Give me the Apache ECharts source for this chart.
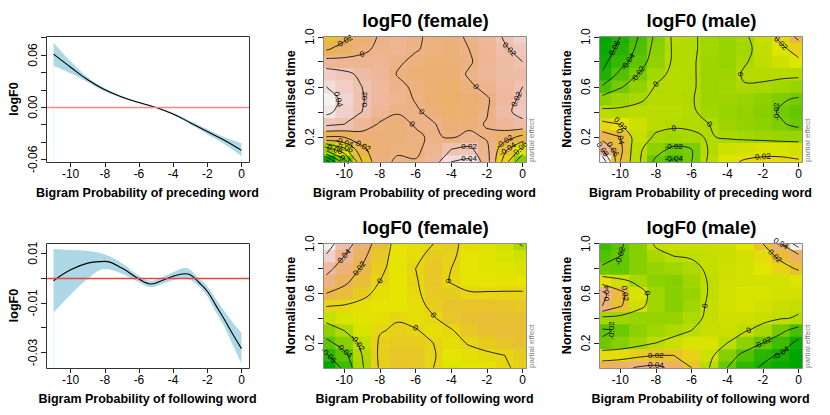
<!DOCTYPE html>
<html><head><meta charset="utf-8">
<script src="https://cdn.jsdelivr.net/npm/echarts@6/dist/echarts.min.js"></script>
<style>html,body{margin:0;padding:0;background:#fff}#c{width:830px;height:415px}</style>
</head><body><div id="c"></div>
<script>
// ================= DATA =================
// line panel 1: preceding word
const precX  = [-11,-10,-9,-8,-7,-6,-5,-4,-3,-2,-1,0];
const precFit = [0.061,0.046,0.0315,0.020,0.0118,0.0053,-0.0004,-0.008,-0.0178,-0.028,-0.038,-0.0497];
const precLo  = [0.0478,0.039,0.0288,0.0182,0.0106,0.0046,-0.0011,-0.0091,-0.0197,-0.0311,-0.0425,-0.0565];
const precHi  = [0.0744,0.0527,0.0345,0.022,0.0129,0.0061,0.0004,-0.0068,-0.0159,-0.0254,-0.0345,-0.0414];
// line panel 2: following word
const follX  = [-11,-10,-9,-8,-7,-6,-5.3,-5,-4,-3.3,-3,-2.5,-2,-1.5,-1,-0.5,0];
const follFit = [-0.0011,0.0033,0.006,0.0067,0.004,-0.0004,-0.0024,-0.002,0.0007,0.0017,0.0013,-0.0017,-0.0053,-0.011,-0.0167,-0.0227,-0.0284];
const follLo  = [-0.014,-0.0067,-0.0004,0.0036,0.0017,-0.0017,-0.0037,-0.0033,-0.0009,-0.0003,-0.0007,-0.0033,-0.0073,-0.0137,-0.0196,-0.0271,-0.0343];
const follHi  = [0.0117,0.0113,0.0109,0.0095,0.006,0.0009,-0.0011,-0.0007,0.0023,0.004,0.0033,0.0,-0.0033,-0.0084,-0.0133,-0.018,-0.022];

// surface grids: columns = gridX, rows = gridY (top row y=1.0 first)
const gridX = [-11,-10,-9,-8,-7,-6,-5,-4,-3,-2,-1,0];
const gridY = [1.0,0.9,0.8,0.7,0.6,0.5,0.4,0.3,0.2,0.1,0.0];
const femalePrecZ = [
 [-0.035,-0.025,-0.010, 0.002, 0.006, 0.002,-0.003,-0.004, 0.002, 0.010, 0.022, 0.032],
 [-0.022,-0.012,-0.004, 0.004, 0.006, 0.001,-0.003,-0.005, 0.000, 0.008, 0.018, 0.026],
 [ 0.008, 0.006, 0.006, 0.008, 0.002,-0.003,-0.006,-0.006,-0.002, 0.008, 0.015, 0.020],
 [ 0.030, 0.025, 0.016, 0.010,-0.001,-0.006,-0.008,-0.008, 0.002, 0.010, 0.015, 0.016],
 [ 0.040, 0.030, 0.020, 0.012, 0.004,-0.003,-0.008,-0.010,-0.003, 0.005, 0.013, 0.020],
 [ 0.050, 0.035, 0.021, 0.013, 0.006,-0.001,-0.008,-0.012,-0.008,-0.002, 0.012, 0.024],
 [ 0.045, 0.032, 0.020, 0.008, 0.001, 0.002,-0.004,-0.010,-0.008,-0.001, 0.016, 0.026],
 [ 0.025, 0.020, 0.010,-0.002,-0.004, 0.001, 0.001,-0.006,-0.004, 0.001, 0.010, 0.015],
 [-0.020,-0.018,-0.008,-0.004,-0.004,-0.002, 0.002,-0.002, 0.004,-0.002,-0.010,-0.025],
 [-0.090,-0.065,-0.025,-0.006,-0.002,-0.003, 0.006, 0.020, 0.025, 0.004,-0.035,-0.065],
 [-0.170,-0.110,-0.040,-0.004, 0.002, 0.001, 0.010, 0.040, 0.045, 0.008,-0.050,-0.100]
];
const malePrecZ = [
 [-0.075,-0.060,-0.040,-0.016, 0.003, 0.002,-0.004,-0.008,-0.002, 0.008, 0.025, 0.045],
 [-0.070,-0.055,-0.036,-0.013, 0.002, 0.002,-0.004,-0.008,-0.004, 0.006, 0.015, 0.028],
 [-0.065,-0.048,-0.030,-0.010, 0.002, 0.002,-0.006,-0.008,-0.001, 0.005, 0.010, 0.016],
 [-0.058,-0.035,-0.020,-0.004, 0.003, 0.002,-0.006,-0.006, 0.002, 0.003, 0.003, 0.003],
 [-0.038,-0.022,-0.010, 0.001, 0.003, 0.002,-0.006,-0.005,-0.001,-0.002,-0.005,-0.008],
 [-0.012,-0.006,-0.002, 0.003, 0.003, 0.001,-0.006,-0.006,-0.008,-0.012,-0.018,-0.022],
 [ 0.004, 0.003, 0.004, 0.004, 0.004, 0.002,-0.005,-0.008,-0.010,-0.014,-0.022,-0.028],
 [ 0.025, 0.020, 0.010, 0.004, 0.002, 0.002, 0.000,-0.006,-0.010,-0.012,-0.018,-0.024],
 [ 0.050, 0.040, 0.008,-0.002,-0.004,-0.002, 0.001,-0.002,-0.004,-0.006,-0.008,-0.008],
 [ 0.080, 0.045, 0.004,-0.012,-0.025,-0.020, 0.002, 0.010, 0.012, 0.014, 0.014, 0.012],
 [ 0.115, 0.040, 0.004,-0.025,-0.045,-0.020, 0.004, 0.016, 0.022, 0.024, 0.024, 0.022]
];
const femaleFollZ = [
 [ 0.070, 0.048, 0.032, 0.010,-0.006,-0.004, 0.000, 0.003,-0.004,-0.008,-0.012,-0.022],
 [ 0.058, 0.040, 0.025, 0.006,-0.006,-0.003, 0.004, 0.002,-0.005,-0.008,-0.010,-0.012],
 [ 0.045, 0.032, 0.018, 0.003,-0.006, 0.000, 0.006, 0.000,-0.006,-0.008,-0.008,-0.010],
 [ 0.035, 0.024, 0.012, 0.000,-0.006,-0.001, 0.006,-0.001,-0.005,-0.006,-0.005,-0.005],
 [ 0.020, 0.014, 0.004,-0.004,-0.006,-0.002, 0.005, 0.004, 0.001, 0.001, 0.001, 0.001],
 [ 0.001,-0.001,-0.004,-0.006,-0.006,-0.004, 0.003, 0.008, 0.008, 0.008, 0.007, 0.006],
 [-0.014,-0.010,-0.008,-0.004,-0.001,-0.004,-0.001, 0.006, 0.010, 0.012, 0.010, 0.010],
 [-0.030,-0.020,-0.010,-0.001, 0.002, 0.001,-0.004,-0.001, 0.006, 0.010, 0.012, 0.012],
 [-0.045,-0.032,-0.016, 0.002, 0.005, 0.004, 0.000,-0.004, 0.001, 0.004, 0.008, 0.010],
 [-0.062,-0.045,-0.020, 0.003, 0.006, 0.006, 0.001,-0.006,-0.004,-0.002, 0.000, 0.004],
 [-0.080,-0.055,-0.022, 0.002, 0.007, 0.006, 0.000,-0.008,-0.008,-0.005,-0.001, 0.002]
];
const maleFollZ = [
 [-0.030,-0.022,-0.012, 0.002, 0.003, 0.003, 0.003, 0.004, 0.008, 0.020, 0.040, 0.070],
 [-0.025,-0.020,-0.012,-0.004, 0.000, 0.001, 0.002, 0.003, 0.005, 0.012, 0.024, 0.035],
 [-0.018,-0.020,-0.012,-0.008,-0.006,-0.003, 0.002, 0.004, 0.005, 0.008, 0.014, 0.022],
 [ 0.010, 0.004,-0.004,-0.010,-0.012,-0.006, 0.001, 0.004, 0.005, 0.005, 0.005, 0.007],
 [ 0.045, 0.025, 0.006,-0.006,-0.012,-0.008, 0.001, 0.005, 0.006, 0.006, 0.005, 0.005],
 [ 0.040, 0.022, 0.004,-0.006,-0.012,-0.006, 0.002, 0.005, 0.006, 0.005, 0.003, 0.002],
 [-0.005,-0.006,-0.008,-0.008,-0.008,-0.003, 0.002, 0.004, 0.004, 0.003, 0.001,-0.001],
 [-0.022,-0.018,-0.010,-0.006,-0.003, 0.000, 0.003, 0.003, 0.001,-0.004,-0.016,-0.028],
 [-0.018,-0.012,-0.006, 0.000, 0.003, 0.006, 0.006, 0.000,-0.010,-0.020,-0.030,-0.045],
 [ 0.012, 0.012, 0.016, 0.020, 0.020, 0.015, 0.004,-0.012,-0.025,-0.036,-0.042,-0.050],
 [ 0.030, 0.035, 0.042, 0.045, 0.035, 0.020, 0.000,-0.020,-0.035,-0.042,-0.046,-0.050]
];

// ticks and labels
const xTicks = [-10,-8,-6,-4,-2,0];
const timeTicks = [0.2,0.4,0.6,0.8,1.0];
const timeLabels = [0.2,0.6,1.0];
const precYTicks = [-0.06,-0.04,-0.02,0,0.02,0.04,0.06,0.08];
const precYLabels = [-0.06,0,0.06];
const follYTicks = [-0.03,-0.02,-0.01,0,0.01];
const follYLabels = [-0.03,-0.01,0.01];
const titles = ['logF0 (female)','logF0 (male)','logF0 (female)','logF0 (male)'];
const xNamePrec = 'Bigram Probability of preceding word';
const xNameFoll = 'Bigram Probability of following word';
const contourStep = 0.02;

// ================= STYLE / LAYOUT =================
const FONT = '"Liberation Sans", Arial, Helvetica, sans-serif';
const grids = [
  {left:46, top:36, width:203, height:126},
  {left:323, top:36, width:203, height:126},
  {left:599, top:36, width:203, height:126},
  {left:46, top:243, width:203, height:125},
  {left:323, top:243, width:203, height:125},
  {left:599, top:243, width:203, height:125}
];

function hsv(h,s,v){
  const i=Math.floor(h*6), f=h*6-i, p=v*(1-s), q=v*(1-f*s), t=v*(1-(1-f)*s);
  let r,g,b;
  switch(((i%6)+6)%6){case 0:r=v;g=t;b=p;break;case 1:r=q;g=v;b=p;break;case 2:r=p;g=v;b=t;break;
    case 3:r=p;g=q;b=v;break;case 4:r=t;g=p;b=v;break;default:r=v;g=p;b=q;}
  return 'rgb('+Math.round(r*255)+','+Math.round(g*255)+','+Math.round(b*255)+')';
}
function terrain(n){
  const k=Math.floor(n/2), out=[];
  for(let i=0;i<k;i++){const t=i/(k-1); out.push(hsv(4/12-2/12*t,1,0.65+0.25*t));}
  const m=n-k+1;
  for(let i=1;i<m;i++){const t=i/(m-1); out.push(hsv(2/12-2/12*t,1-t,0.9+0.05*t));}
  return out;
}
const TERRAIN = terrain(50);

const nameStyle = {fontFamily:FONT, fontWeight:'bold', fontSize:12.5, color:'#000'};
function xAxisFor(gi,min,max,name){
  return {type:'value', gridIndex:gi, min, max, name, nameLocation:'middle', nameGap:24.5, nameTextStyle:nameStyle,
    axisLine:{show:false,onZero:false}, splitLine:{show:false},
    axisTick:{show:true,length:5,lineStyle:{color:'#222'},customValues:xTicks},
    axisLabel:{show:true,customValues:xTicks,margin:6,color:'#000',fontSize:12,fontFamily:FONT,formatter:v=>String(v)}};
}
function yAxisFor(gi,min,max,name,ticks,labels,dec){
  return {type:'value', gridIndex:gi, min, max, name, nameLocation:'middle', nameGap:26, nameTextStyle:nameStyle,
    axisLine:{show:false,onZero:false}, splitLine:{show:false},
    axisTick:{show:true,length:5,lineStyle:{color:'#222'},customValues:ticks},
    axisLabel:{show:true,customValues:labels,rotate:90,margin:7,color:'#000',fontSize:12,fontFamily:FONT,formatter:v=>v.toFixed(dec)}};
}

const xAxes=[], yAxes=[], series=[], visualMaps=[];
xAxes.push(xAxisFor(0,-11.44,0.44,xNamePrec)); yAxes.push(yAxisFor(0,-0.0631,0.0819,'logF0',precYTicks,precYLabels,2));
xAxes.push(xAxisFor(1,-11.19,0.19,xNamePrec)); yAxes.push(yAxisFor(1,-0.002,1.006,'Normalised time',timeTicks,timeLabels,1));
xAxes.push(xAxisFor(2,-11.19,0.19,xNamePrec)); yAxes.push(yAxisFor(2,-0.002,1.006,'Normalised time',timeTicks,timeLabels,1));
xAxes.push(xAxisFor(3,-11.44,0.44,xNameFoll)); yAxes.push(yAxisFor(3,-0.0362,0.0141,'logF0',follYTicks,follYLabels,2));
xAxes.push(xAxisFor(4,-11.19,0.19,xNameFoll)); yAxes.push(yAxisFor(4,-0.002,1.006,'Normalised time',timeTicks,timeLabels,1));
xAxes.push(xAxisFor(5,-11.19,0.19,xNameFoll)); yAxes.push(yAxisFor(5,-0.002,1.006,'Normalised time',timeTicks,timeLabels,1));

function linePanel(gi, xs, fit, lo, hi, redColor){
  series.push({type:'line', xAxisIndex:gi, yAxisIndex:gi, data:xs.map((x,i)=>[x,hi[i]]),
    symbol:'none', smooth:0.4, lineStyle:{opacity:0}, areaStyle:{color:'#ADD8E6',opacity:1,origin:'start'}, silent:true, z:1, animation:false});
  series.push({type:'line', xAxisIndex:gi, yAxisIndex:gi, data:xs.map((x,i)=>[x,lo[i]]),
    symbol:'none', smooth:0.4, lineStyle:{opacity:0}, areaStyle:{color:'#ffffff',opacity:1,origin:'start'}, silent:true, z:2, animation:false});
  series.push({type:'line', xAxisIndex:gi, yAxisIndex:gi, data:[],
    silent:true, z:3, animation:false,
    markLine:{silent:true, symbol:['none','none'], label:{show:false}, animation:false,
      lineStyle:{color:redColor,width:1.3,type:'solid',opacity:1}, data:[{yAxis:0, lineStyle:{color:redColor}}]}});
  series.push({type:'line', xAxisIndex:gi, yAxisIndex:gi, data:xs.map((x,i)=>[x,fit[i]]),
    symbol:'none', smooth:0.4, lineStyle:{color:'#000',width:1.1}, silent:true, z:4, animation:false});
}
linePanel(0, precX, precFit, precLo, precHi, '#ef8a8a');
linePanel(3, follX, follFit, follLo, follHi, '#e84444');

function zRange(Z){let a=Infinity,b=-Infinity;Z.forEach(r=>r.forEach(v=>{a=Math.min(a,v);b=Math.max(b,v);}));return [a,b];}
const cellW = Math.abs(gridX[1]-gridX[0]), cellH = Math.abs(gridY[0]-gridY[1]);

function buildContours(Z, step){
  const ys = gridY.slice().reverse();
  const A = Z.slice().reverse();
  const nx=gridX.length, ny=ys.length;
  const [zmin,zmax]=zRange(Z);
  const out=[];
  for(let k=Math.ceil(zmin/step-1e-9); k*step<=zmax+1e-12; k++){
    const L = Math.round(k*step*1e4)/1e4;
    const pts={}, segs=[];
    const cross=(key,xa,ya,za,xb,yb,zb)=>{ if(!pts[key]){const t=(L-za)/(zb-za); pts[key]=[xa+(xb-xa)*t, ya+(yb-ya)*t];} };
    for(let j=0;j<ny-1;j++) for(let i=0;i<nx-1;i++){
      const z00=A[j][i], z10=A[j][i+1], z01=A[j+1][i], z11=A[j+1][i+1];
      const x0=gridX[i], x1=gridX[i+1], y0=ys[j], y1=ys[j+1];
      const kB='h'+i+'_'+j, kT='h'+i+'_'+(j+1), kL='v'+i+'_'+j, kR='v'+(i+1)+'_'+j;
      const list=[];
      if((z00<L)!==(z10<L)){cross(kB,x0,y0,z00,x1,y0,z10);list.push(kB);}
      if((z10<L)!==(z11<L)){cross(kR,x1,y0,z10,x1,y1,z11);list.push(kR);}
      if((z01<L)!==(z11<L)){cross(kT,x0,y1,z01,x1,y1,z11);list.push(kT);}
      if((z00<L)!==(z01<L)){cross(kL,x0,y0,z00,x0,y1,z01);list.push(kL);}
      if(list.length===2) segs.push(list);
      else if(list.length===4){
        const c=(z00+z10+z01+z11)/4;
        if((c<L)===(z00<L)){segs.push([kB,kR]);segs.push([kT,kL]);}
        else {segs.push([kB,kL]);segs.push([kR,kT]);}
      }
    }
    const adj={}; segs.forEach((s,n)=>{(adj[s[0]]=adj[s[0]]||[]).push(n);(adj[s[1]]=adj[s[1]]||[]).push(n);});
    const used=new Array(segs.length).fill(false);
    const walk=(start)=>{const ch=[start];let cur=start;for(;;){const nx2=(adj[cur]||[]).find(n=>!used[n]);if(nx2===undefined)break;used[nx2]=true;const s=segs[nx2];cur=s[0]===cur?s[1]:s[0];ch.push(cur);}return ch;};
    const chains=[];
    Object.keys(adj).forEach(key=>{if(adj[key].length===1&&!used[adj[key][0]])chains.push(walk(key));});
    segs.forEach((s,n)=>{if(!used[n])chains.push(walk(s[0]));});
    chains.forEach(ch=>out.push({label:String(L), pts:ch.map(key=>pts[key])}));
  }
  return out;
}

function heatPanel(gi, Z){
  const data=[];
  Z.forEach((row,r)=>row.forEach((v,c)=>data.push([gridX[c],gridY[r],v])));
  const [mn,mx]=zRange(Z);
  visualMaps.push({type:'continuous', show:false, min:mn, max:mx, dimension:2, seriesIndex:series.length, inRange:{color:TERRAIN}});
  series.push({type:'custom', xAxisIndex:gi, yAxisIndex:gi, data, encode:{x:0,y:1}, silent:true, z:1, animation:false,
    renderItem(params, api){
      const x=api.value(0), y=api.value(1);
      const p0=api.coord([x-cellW/2, y+cellH/2]), p1=api.coord([x+cellW/2, y-cellH/2]);
      const cs=params.coordSys;
      const rect=echarts.graphic.clipRectByRect({x:p0[0],y:p0[1],width:p1[0]-p0[0]+0.7,height:p1[1]-p0[1]+0.7},
        {x:cs.x,y:cs.y,width:cs.width,height:cs.height});
      return rect && {type:'rect', shape:rect, style:{fill:api.visual('color')}};
    }});
  const cs = buildContours(Z, contourStep);
  series.push({type:'custom', xAxisIndex:gi, yAxisIndex:gi, silent:true, z:4, animation:false,
    data: cs.map((c,i)=>[c.pts[0][0], c.pts[0][1], i]), encode:{x:0,y:1},
    renderItem(params, api){
      const c = cs[api.value(2)];
      const px = c.pts.map(p=>api.coord(p));
      const children=[{type:'polyline', shape:{points:px, smooth:0.35}, style:{stroke:'#111', lineWidth:0.9, fill:null}}];
      if(px.length>=3){
        const m=Math.floor(px.length/2), a=px[m-1], b=px[m+1];
        let ang=Math.atan2(-(b[1]-a[1]), b[0]-a[0]);
        if(ang>Math.PI/2) ang-=Math.PI; if(ang<-Math.PI/2) ang+=Math.PI;
        children.push({type:'text', x:px[m][0], y:px[m][1], rotation:ang,
          style:{text:c.label, fontSize:8, fontFamily:FONT, fill:'#000', textAlign:'center', textVerticalAlign:'middle'}});
      }
      return {type:'group', children};
    }});
}
heatPanel(1, femalePrecZ);
heatPanel(2, malePrecZ);
heatPanel(4, femaleFollZ);
heatPanel(5, maleFollZ);

const graphic=[];
grids.forEach((g,i)=>{
  const heat = (i%3)!==0;
  graphic.push({type:'rect', z:100, silent:true, shape:{x:g.left+0.5,y:g.top+0.5,width:g.width,height:g.height},
    style:{fill:null, stroke: heat?'#8c8c8c':'#333', lineWidth:1}});
  if(heat){
    graphic.push({type:'text', z:100, silent:true, x:g.left+g.width+5, y:g.top+g.height, rotation:Math.PI/2,
      style:{text:'partial effect', fontSize:8, fontFamily:FONT, fill:'#808080', textAlign:'left', textVerticalAlign:'middle'}});
  }
});
[[1,20],[2,20],[4,227],[5,227]].forEach(([gi,y],k)=>{
  const g=grids[gi];
  graphic.push({type:'text', z:100, silent:true, x:g.left+g.width/2+1, y,
    style:{text:titles[k], fontSize:18.7, fontWeight:'bold', fontFamily:FONT, fill:'#000', textAlign:'center', textVerticalAlign:'middle'}});
});

const chart = echarts.init(document.getElementById('c'), null, {renderer:'svg', width:830, height:415});
chart.setOption({
  animation:false, backgroundColor:'#fff',
  grid: grids.map(g=>Object.assign({containLabel:false}, g)),
  xAxis:xAxes, yAxis:yAxes, visualMap:visualMaps, series, graphic
});
</script></body></html>
